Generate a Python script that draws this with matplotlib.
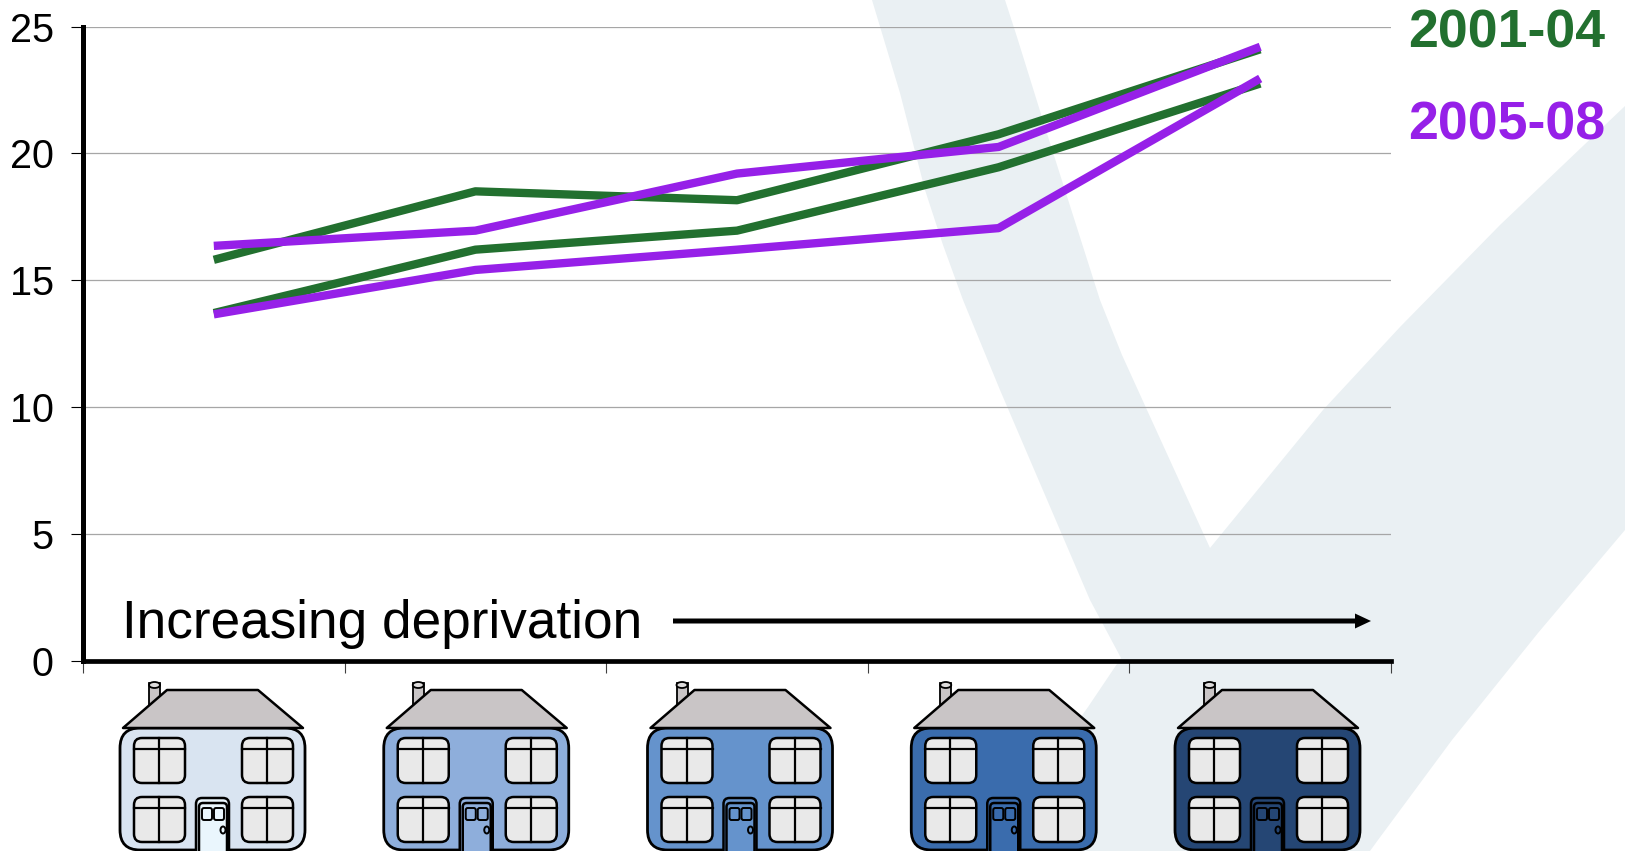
"""
Percentage by deprivation fifth, two time periods, with house pictograms.
"""

import matplotlib
matplotlib.use('Agg')
import matplotlib.pyplot as plt
from matplotlib.patches import Polygon, FancyBboxPatch, Rectangle, Ellipse

plt.rcParams['font.family'] = ['Liberation Sans', 'DejaVu Sans']

# Data
quintiles = [1, 2, 3, 4, 5]
green_upper = [15.8, 18.5, 18.15, 20.75, 24.1]
green_lower = [13.7, 16.2, 16.95, 19.45, 22.75]
purple_upper = [16.35, 16.95, 19.2, 20.25, 24.2]
purple_lower = [13.65, 15.4, 16.2, 17.05, 22.95]
y_ticks = [0, 5, 10, 15, 20, 25]
x_edges = [0.5, 1.5, 2.5, 3.5, 4.5, 5.5]

GREEN = '#22702f'
PURPLE = '#9620e8'
WATERMARK = '#eaf0f3'
house_colors = ['#d9e4f1', '#8eaedb', '#6593cc', '#3a6cad', '#254674']
door_colors = ['#eaf6fd', '#8eaedb', '#6593cc', '#3a6cad', '#254674']

W, H = 1625, 851


def rounded(ax, x0, y0, x1, y1, r, face, lw=1.8):
    """Rounded box given in pixel coordinates."""
    ax.add_patch(FancyBboxPatch((x0, y0), x1 - x0, y1 - y0,
                                boxstyle=f'round,pad=0,rounding_size={r}',
                                fc=face, ec='black', lw=lw))


def draw_window(ax, x0, y0, bar_y):
    rounded(ax, x0, y0, x0 + 51, y0 + 45, 8, '#e9e9e9')
    ax.plot([x0 + 25, x0 + 25], [y0, y0 + 45], color='black', lw=1.6)
    ax.plot([x0, x0 + 51], [bar_y, bar_y], color='black', lw=1.6)


def draw_house(ax, left, color, door):
    """One house pictogram, left is the left edge of the body."""
    # chimney
    ax.add_patch(Rectangle((left + 29, 683), 11, 24, fc='#c9c5c6', ec='black', lw=1.3))
    ax.add_patch(Ellipse((left + 34.5, 685), 11, 6, fc='#dedcdc', ec='black', lw=1.3))
    # body
    rounded(ax, left, 728, left + 185, 850, 20, color, lw=2.0)
    # roof
    ax.add_patch(Polygon([(left + 47, 690), (left + 138, 690), (left + 183, 728), (left + 3, 728)],
                         closed=True, fc='#c9c5c6', ec='black', lw=1.8, joinstyle='round'))
    # windows
    draw_window(ax, left + 14, 738, 749)
    draw_window(ax, left + 122, 738, 749)
    draw_window(ax, left + 14, 797, 808)
    draw_window(ax, left + 122, 797, 808)
    # door
    rounded(ax, left + 76, 798, left + 109, 870, 6, door)
    rounded(ax, left + 79, 803, left + 107, 870, 4, door)
    rounded(ax, left + 82, 808, left + 92, 820, 2, door, lw=1.4)
    rounded(ax, left + 94, 808, left + 104, 820, 2, door, lw=1.4)
    ax.add_patch(Ellipse((left + 103, 830), 5, 7, fc=door, ec='black', lw=1.4))


def pixel_axes(fig, zorder):
    """Full-figure overlay that works in image pixels."""
    ax = fig.add_axes([0, 0, 1, 1], zorder=zorder)
    ax.set_xlim(0, W)
    ax.set_ylim(H, 0)
    ax.axis('off')
    ax.patch.set_alpha(0)
    return ax


def main():
    fig = plt.figure(figsize=(W / 100, H / 100), dpi=100, facecolor='white')

    # Watermark tick behind everything
    bg = pixel_axes(fig, -1)
    bg.add_patch(Polygon([(872, 0), (900, 93), (925, 190), (943, 245), (963, 300),
                          (1000, 390), (1033, 467), (1090, 600), (1121, 658),
                          (1088, 707), (985, 851), (1370, 851), (1378, 840),
                          (1452, 740), (1538, 633), (1625, 530), (1625, 106),
                          (1500, 225), (1400, 327), (1323, 410), (1210, 548), (1147, 410),
                          (1122, 355), (1100, 300), (1050, 143), (1017, 37), (1005, 0)],
                         closed=True, fc=WATERMARK, ec='none'))

    # Main chart
    ax = fig.add_axes([83 / W, 1 - 660.5 / H, (1391 - 83) / W, (660.5 - 26.5) / H])
    ax.patch.set_alpha(0)
    ax.plot(quintiles, green_upper, color=GREEN, lw=6, solid_capstyle='butt', zorder=3)
    ax.plot(quintiles, green_lower, color=GREEN, lw=6, solid_capstyle='butt', zorder=3)
    ax.plot(quintiles, purple_upper, color=PURPLE, lw=6, solid_capstyle='butt', zorder=4)
    ax.plot(quintiles, purple_lower, color=PURPLE, lw=6, solid_capstyle='butt', zorder=4)

    ax.set_xlim(x_edges[0], x_edges[-1])
    ax.set_ylim(0, 25)
    ax.set_yticks(y_ticks)
    ax.set_xticks(x_edges)
    ax.set_xticklabels([])
    ax.tick_params(axis='y', length=9, width=0.8, color='black', labelsize=28.5, pad=12)
    ax.tick_params(axis='x', length=8.5, width=0.8, color='#404040')
    ax.grid(axis='y', color='#a6a6a6', lw=0.9)
    ax.set_axisbelow(True)
    ax.spines['top'].set_visible(False)
    ax.spines['right'].set_visible(False)
    ax.spines['left'].set_linewidth(3.6)
    ax.spines['bottom'].set_linewidth(3.4)

    # Text, arrow and houses on top
    top = pixel_axes(fig, 5)
    top.text(122, 638, 'Increasing deprivation', fontsize=38.25, va='baseline', ha='left')
    top.arrow(673, 621, 1371 - 673, 0, width=5, head_width=15, head_length=16,
              length_includes_head=True, fc='black', ec='none')
    top.text(1408, 48, '2001-04', fontsize=38.6, fontweight='bold', color=GREEN, va='baseline')
    top.text(1408, 139, '2005-08', fontsize=38.6, fontweight='bold', color=PURPLE, va='baseline')

    for i in range(len(house_colors)):
        draw_house(top, 120 + i * 263.75, house_colors[i], door_colors[i])

    fig.savefig('out.png', dpi=100)


if __name__ == '__main__':
    main()
